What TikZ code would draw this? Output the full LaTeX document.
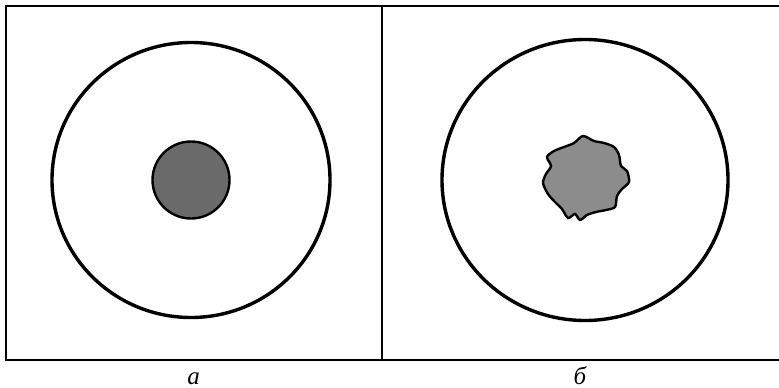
\documentclass[tikz,border=0pt]{standalone}
\usepackage{fontspec}
\setmainfont{Liberation Serif}
\usetikzlibrary{positioning}
\definecolor{cellDark}{HTML}{6A6A6A}
\definecolor{cellLight}{HTML}{8C8C8C}

\begin{document}
\begin{tikzpicture}[x=1pt,y=-1pt,
   frameline/.style={line width=2.4pt},
   midline/.style={line width=1.8pt},
   membrane/.style={line width=3.4pt},
   core/.style={draw,line width=2.4pt},
   caption/.style={font=\fontsize{25}{25}\selectfont\itshape,inner sep=0pt,anchor=base}]
  \useasboundingbox (0,0) rectangle (779,388);
  % frame, open at the right
  \draw[frameline] (779,6) -- (6,6) -- (6,360) -- (779,360);
  \draw[midline] (382,6) -- (382,360);
  \coordinate (ca) at (191,180);
  \coordinate (cb) at (585,180);
  % panel a
  \draw[membrane] (ca) ellipse [x radius=139, y radius=137.5];
  \draw[core,fill=cellDark] (ca) circle [radius=38.5];
  % panel b
  \draw[membrane] (cb) ellipse [x radius=143, y radius=140.5];
  \draw[core,fill=cellLight,shift={(586,178)}] plot[smooth cycle,tension=0.5] coordinates {
    (-3,-42) (8,-37) (18,-35) (28,-31) (33,-23) (35,-12) (41,-7) (43,4)
    (36,11) (31,18) (29,29) (20,32) (10,34) (1,37) (-6,42) (-11,36)
    (-18,40) (-24,31) (-31,24) (-38,16) (-43,5) (-40,-4) (-35,-12)
    (-39,-21) (-32,-27) (-22,-31) (-12,-35)};
  % captions
  \node[caption] (la) at (193.5,384) {а};
  \node[caption] (lb) at (580,384) {б};
\end{tikzpicture}
\end{document}
